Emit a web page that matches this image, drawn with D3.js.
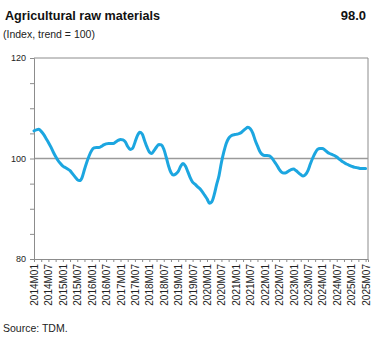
<!DOCTYPE html>
<html><head><meta charset="utf-8">
<script src="https://cdn.jsdelivr.net/npm/d3@7"></script>
<style>body{margin:0;background:#fff}svg{display:block}</style>
</head><body>
<svg id="c" width="378" height="347"></svg>
<script>
const title = "Agricultural raw materials";
const subtitle = "(Index, trend = 100)";
const latest = "98.0";
const source = "Source: TDM.";
const startYear = 2014;
// monthly index values from 2014M01 to 2025M07
const values = [
105.5,105.7,105.8,105.4,104.8,104.0,103.2,102.3,101.3,100.4,99.6,99.0,
98.5,98.2,97.9,97.6,97.0,96.4,95.8,95.6,96.2,97.8,99.3,100.6,
101.6,102.1,102.2,102.2,102.4,102.7,102.9,103.0,103.0,103.0,103.3,103.6,
103.8,103.7,103.3,102.4,101.8,102.0,103.2,104.5,105.2,104.9,103.6,102.3,
101.3,101.0,101.6,102.3,102.8,102.7,101.9,100.3,98.5,97.2,96.7,96.9,
97.4,98.4,99.0,98.5,97.4,96.2,95.3,94.9,94.4,94.0,93.4,92.7,
92.0,91.1,91.4,92.8,94.8,96.6,99.2,101.3,103.0,104.0,104.5,104.7,
104.8,104.9,105.1,105.5,105.9,106.2,105.9,105.1,103.7,102.5,101.4,100.8,
100.6,100.6,100.5,100.1,99.4,98.7,97.9,97.3,97.1,97.2,97.5,97.8,
97.9,97.6,97.2,96.8,96.5,96.8,97.6,98.9,100.1,101.1,101.8,102.0,
102.0,101.7,101.3,101.0,100.8,100.6,100.3,99.9,99.5,99.2,98.9,98.7,
98.5,98.3,98.2,98.1,98.0,98.0,98.0];
const yTickLabels = [80, 100, 120];
const yMinorTicks = [80,85,90,95,100,105,110,115,120];
const xTickLabels = ["2014M01","2014M07","2015M01","2015M07","2016M01","2016M07","2017M01","2017M07","2018M01","2018M07","2019M01","2019M07","2020M01","2020M07","2021M01","2021M07","2022M01","2022M07","2023M01","2023M07","2024M01","2024M07","2025M01","2025M07"];

const months = values.map((v,i)=>{const y=startYear+Math.floor(i/12), m=i%12+1; return y+"M"+(m<10?"0":"")+m;});
const data = values.map((v,i)=>({i, label: months[i], v}));

const svg = d3.select("#c");
const L=34, R=368, T=58, B=259;
const x = d3.scaleLinear().domain([0, values.length]).range([L, R]);
const y = d3.scaleLinear().domain([80,120]).range([B, T]);
const font = "'Liberation Sans', Arial, sans-serif";

// frame
svg.append("line").attr("x1",L).attr("x2",R).attr("y1",T).attr("y2",T).attr("stroke","#8c8c8c").attr("stroke-width",1);
svg.append("line").attr("x1",R).attr("x2",R).attr("y1",T).attr("y2",B).attr("stroke","#8c8c8c").attr("stroke-width",1);
svg.append("line").attr("x1",L).attr("x2",R).attr("y1",y(100)).attr("y2",y(100)).attr("stroke","#9a9a9a").attr("stroke-width",1.3);

// y axis
const yAxis = d3.axisLeft(y).tickValues(yMinorTicks).tickSize(4).tickFormat(d=>yTickLabels.includes(d)?d:"");
const gy = svg.append("g").attr("transform",`translate(${L},0)`).call(yAxis);
gy.select(".domain").attr("stroke","#8c8c8c");
gy.selectAll(".tick line").attr("stroke","#8c8c8c");
gy.selectAll(".tick text").attr("font-family",font).attr("font-size",9).attr("fill","#222").attr("x",-8);

// x axis
const qTicks = d3.range(0, values.length+1, 3);
const xAxis = d3.axisBottom(x).tickValues(qTicks).tickSize(3).tickFormat(d=> d%6===0 && xTickLabels[d/6] ? xTickLabels[d/6] : "");
const gx = svg.append("g").attr("transform",`translate(0,${B})`).call(xAxis);
gx.select(".domain").attr("stroke","#8c8c8c");
gx.selectAll(".tick line").attr("stroke","#8c8c8c");
gx.selectAll(".tick text").attr("font-family",font).attr("font-size",10).attr("fill","#222")
  .attr("transform","rotate(-90)").attr("text-anchor","end").attr("x",-5).attr("y",0).attr("dy","0.35em");

// line
const line = d3.line().x(d=>x(d.i)).y(d=>y(d.v)).curve(d3.curveMonotoneX);
svg.append("path").datum(data).attr("d",line).attr("fill","none").attr("stroke","#1ca6e0").attr("stroke-width",3).attr("stroke-linejoin","round").attr("stroke-linecap","round");

// texts
svg.append("text").attr("x",5).attr("y",20).attr("font-family",font).attr("font-weight","bold").attr("font-size",13).attr("fill","#111")
  .attr("textLength",155).attr("lengthAdjust","spacingAndGlyphs").text(title);
svg.append("text").attr("x",366).attr("y",20).attr("text-anchor","end").attr("font-family",font).attr("font-weight","bold").attr("font-size",13).attr("fill","#111").text(latest);
svg.append("text").attr("x",3).attr("y",38).attr("font-family",font).attr("font-size",10.5).attr("fill","#222").text(subtitle);
svg.append("text").attr("x",3).attr("y",332).attr("font-family",font).attr("font-size",10.5).attr("fill","#222").text(source);
</script>
</body></html>
